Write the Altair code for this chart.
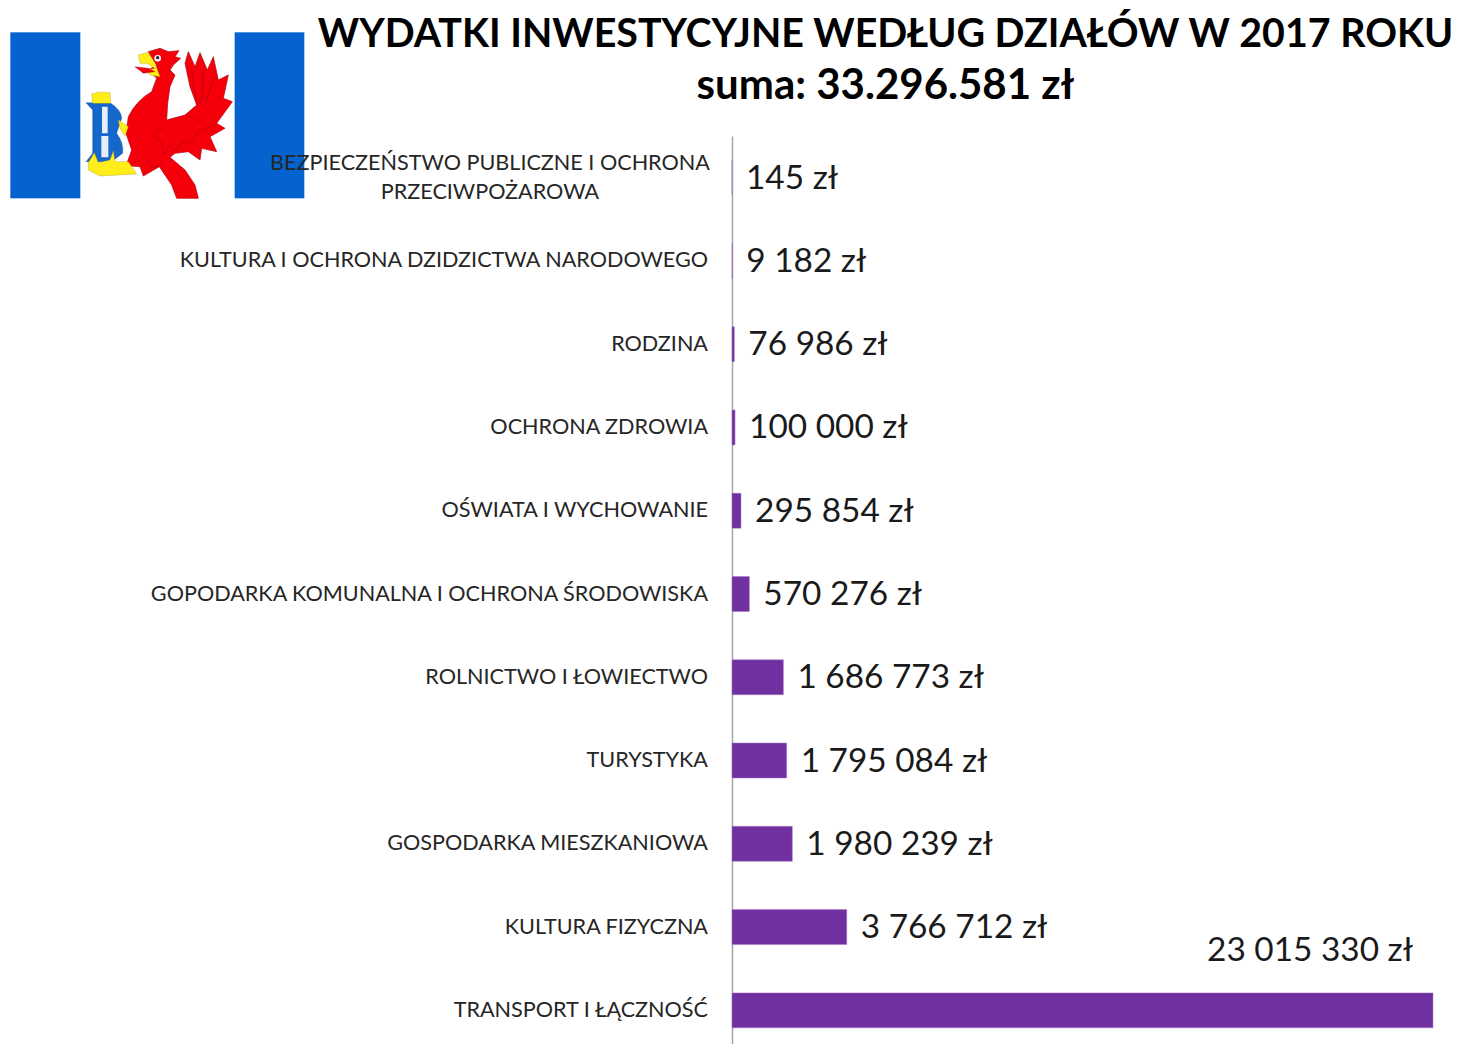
import urllib.parse
import altair as alt
import pandas as pd

categories = [
    "BEZPIECZEŃSTWO PUBLICZNE I OCHRONA\nPRZECIWPOŻAROWA",
    "KULTURA I OCHRONA DZIDZICTWA NARODOWEGO",
    "RODZINA",
    "OCHRONA ZDROWIA",
    "OŚWIATA I WYCHOWANIE",
    "GOPODARKA KOMUNALNA I OCHRONA ŚRODOWISKA",
    "ROLNICTWO I ŁOWIECTWO",
    "TURYSTYKA",
    "GOSPODARKA MIESZKANIOWA",
    "KULTURA FIZYCZNA",
    "TRANSPORT I ŁĄCZNOŚĆ",
]
values = [145, 9182, 76986, 100000, 295854, 570276, 1686773, 1795084, 1980239, 3766712, 23015330]
title_main = "WYDATKI INWESTYCYJNE WEDŁUG DZIAŁÓW W 2017 ROKU"
title_sum = "suma: 33.296.581 zł"

df = pd.DataFrame({
    "kategoria": categories,
    "wartosc": values,
    "etykieta": [f"{v:,}".replace(",", " ") + " zł" for v in values],
})

logo_svg = """<svg xmlns="http://www.w3.org/2000/svg" width="320" height="190" viewBox="0 0 960 570">
<rect x="31" y="37" width="210" height="498" fill="#0563d0"/>
<rect x="704" y="37" width="209" height="498" fill="#0563d0"/>
<path d="M445 95 L480 85 L505 95 L537 92 L525 110 L542 115 L520 135 L510 150 L525 165 L510 200 L503 250 L500 300 L555 285 L590 255 L570 200 L555 130 L565 95 L585 140 L600 98 L622 150 L640 110 L655 180 L685 165 L670 235 L697 245 L650 310 L675 325 L630 350 L650 395 L605 385 L600 420 L565 395 L525 400 L510 412 L555 450 L585 495 L595 535 L530 535 L515 495 L478 440 L430 468 L420 440 L378 437 L395 390 L378 340 L385 290 Q410 240 455 215 L470 175 L445 150 L470 135 L445 100 Z" fill="#f5000a" stroke="#b00010" stroke-width="2"/>
<path d="M500 320 L470 335 L460 350 L485 365 L490 405 L510 375 L530 395 L545 365 L570 370 L600 330 L640 315 M590 255 L620 230 M575 150 L590 250 M610 150 L605 240 M645 170 L615 250 M560 285 L600 305 M440 420 L460 445 L490 425" fill="none" stroke="#b00010" stroke-width="2"/>
<path d="M415 105 L445 97 L465 130 L480 170 L450 165 L440 150 L465 145 L440 130 L420 130 Z" fill="#ffee1a" stroke="#a09000"/>
<path d="M405 140 L445 145 L465 155 L430 160 Z" fill="#f5000a" stroke="#a00010"/>
<circle cx="473" cy="115" r="10" fill="#fff"/><circle cx="473" cy="113" r="5" fill="#222"/>
<path d="M258 248 L330 248 Q365 270 365 295 L350 340 Q372 370 368 400 L335 425 L258 425 L278 400 L278 270 Z" fill="#1667cc" stroke="#0b3f88"/>
<path d="M306 260 L323 260 L323 340 L306 340 Z M304 348 L325 348 L325 412 L304 412 Z" fill="#e8eef8"/>
<path d="M275 222 L295 216 L330 218 L332 250 L278 250 Z" fill="#ffee1a" stroke="#a09000"/>
<path d="M265 428 L283 398 L295 428 L330 420 L340 392 L345 425 L385 425 L410 462 L300 468 L265 450 Z" fill="#ffee1a" stroke="#a09000"/>
<path d="M355 300 L385 320 L375 348 L360 325 Z" fill="#ffee1a" stroke="#a09000"/>
</svg>"""
logo_url = "data:image/svg+xml," + urllib.parse.quote(logo_svg)

y_enc = alt.Y(
    "kategoria:N",
    sort=None,
    title=None,
    scale=alt.Scale(range=[0, 916], paddingInner=0.58, paddingOuter=0.29),
    axis=alt.Axis(labels=False, ticks=False, grid=False, domain=True, domainColor="#a6a6a6", domainWidth=1.5),
)
x_enc = alt.X(
    "wartosc:Q",
    title=None,
    scale=alt.Scale(domain=[0, 23015330], nice=False, zero=True),
    axis=None,
)

base = alt.Chart(df)

logo = alt.Chart(alt.Data(values=[{"logo": 1}])).mark_image(
    url=logo_url, width=320, height=190, align="left", baseline="top"
).encode(x=alt.value(-732), y=alt.value(-116))

bars = base.mark_bar(color="#7030a0", stroke="#a679c4", strokeWidth=0.5).encode(x=x_enc, y=y_enc)

LABEL_FONT = "Lato"
LABEL_SIZE = 21.6
VALUE_SIZE = 33.4

cat_right = base.transform_filter(alt.datum.wartosc > 145).mark_text(
    align="right", baseline="middle", dx=-24, dy=0.5, font=LABEL_FONT, fontSize=LABEL_SIZE, color="#262626"
).encode(x=alt.value(0), y=y_enc, text="kategoria:N")

cat_first = base.transform_filter(alt.datum.wartosc == 145).mark_text(
    align="center", baseline="middle", dx=-242, dy=-14, font=LABEL_FONT, fontSize=LABEL_SIZE,
    color="#262626", lineBreak="\n", lineHeight=29,
).encode(x=alt.value(0), y=y_enc, text="kategoria:N")

val_labels = base.transform_filter(alt.datum.wartosc < 10000000).mark_text(
    align="left", baseline="middle", dx=14, dy=1, font=LABEL_FONT, fontSize=VALUE_SIZE, color="#1a1a1a"
).encode(x=x_enc, y=y_enc, text="etykieta:N")

val_last = base.transform_filter(alt.datum.wartosc > 10000000).mark_text(
    align="right", baseline="middle", dx=-20, dy=-59, font=LABEL_FONT, fontSize=VALUE_SIZE, color="#1a1a1a"
).encode(x=x_enc, y=y_enc, text="etykieta:N")

chart = alt.layer(logo, bars, cat_right, cat_first, val_labels, val_last).properties(
    width=701,
    height=908,
    padding={"left": 724, "top": 128, "right": 26, "bottom": 0},
    autosize=alt.AutoSizeParams(type="none"),
    title=alt.TitleParams(
        text=title_main,
        subtitle=title_sum,
        anchor="middle",
        frame="group",
        font=LABEL_FONT,
        fontSize=39.4,
        fontWeight="bold",
        color="#000000",
        subtitleFont=LABEL_FONT,
        subtitleFontSize=42,
        subtitleFontWeight="bold",
        subtitleColor="#000000",
        subtitlePadding=11,
        dx=-197,
        dy=127,
        offset=39,
    ),
).configure_view(stroke=None)

chart.save("out.html", embed_options={"renderer": "svg", "actions": False})
